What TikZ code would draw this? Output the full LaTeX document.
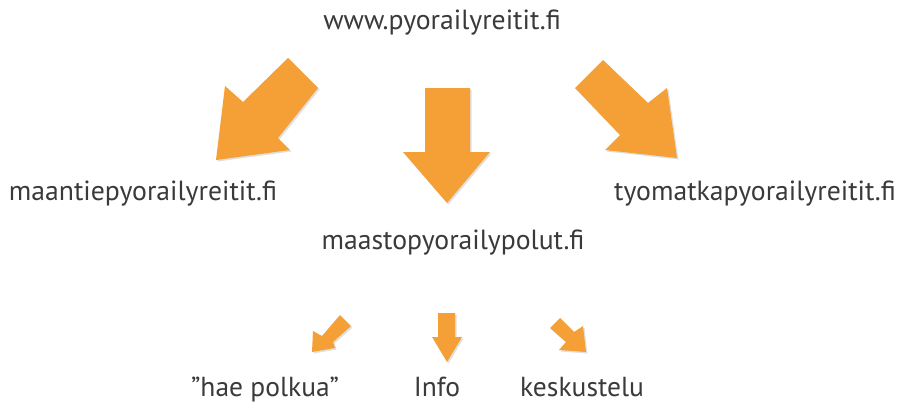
\documentclass[tikz,border=0pt]{standalone}
\usepackage{fontspec}
\setmainfont{PT Sans}
\definecolor{arroworange}{HTML}{F4A036}
\definecolor{txtgray}{HTML}{3A3A3A}
\tikzset{
  blockarrow/.style={fill=arroworange, draw=none},
  arrowshadow/.style={fill=black!12, draw=none},
  bigtxt/.style={text=txtgray, font=\fontsize{27.7}{30}\selectfont, inner sep=0pt, anchor=base},
  smalltxt/.style={text=txtgray, font=\fontsize{27.5}{30}\selectfont, inner sep=0pt, anchor=base}
}
\newcommand{\barrow}[1]{%
  \fill[arrowshadow, xshift=1.5pt, yshift=-1.5pt] #1;
  \fill[blockarrow] #1;}
\begin{document}
\begin{tikzpicture}[x=1pt,y=-1pt]
\useasboundingbox (0,0) rectangle (902,410);
\fill[white] (0,0) rectangle (902,410);
% texts
\node[bigtxt] (top) at (442,29) {www.pyorailyreitit.fi};
\node[bigtxt] (left) at (143,200) {maantiepyorailyreitit.fi};
\node[bigtxt] (mid) at (453,249) {maastopyorailypolut.fi};
\node[bigtxt] (right) at (755,200) {tyomatkapyorailyreitit.fi};
\node[smalltxt] (hae) at (265,396) {”hae polkua”};
\node[smalltxt] (info) at (437,396) {Info};
\node[smalltxt] (kesk) at (582,396) {keskustelu};
% big arrows
\barrow{(288,58) -- (318,88) -- (278,138) -- (290,150) -- (216,160) -- (225,86) -- (243,102) -- cycle}
\barrow{(425,88) -- (470,88) -- (470,152) -- (490,152) -- (447,203) -- (403,152) -- (425,152) -- cycle}
\barrow{(603,60) -- (648,103) -- (667,88) -- (677,158) -- (605,150) -- (620,135) -- (575,88) -- cycle}
% small arrows
\barrow{(340,315) -- (351,326) -- (333,342) -- (335,348) -- (312,352) -- (313,331) -- (322,336) -- cycle}
\barrow{(438,313) -- (455,313) -- (455,337) -- (462,337) -- (447,362) -- (432,337) -- (438,337) -- cycle}
\barrow{(560,318) -- (574,332) -- (583,326) -- (586,352) -- (559,350) -- (566,342) -- (550,328) -- cycle}
\end{tikzpicture}
\end{document}
